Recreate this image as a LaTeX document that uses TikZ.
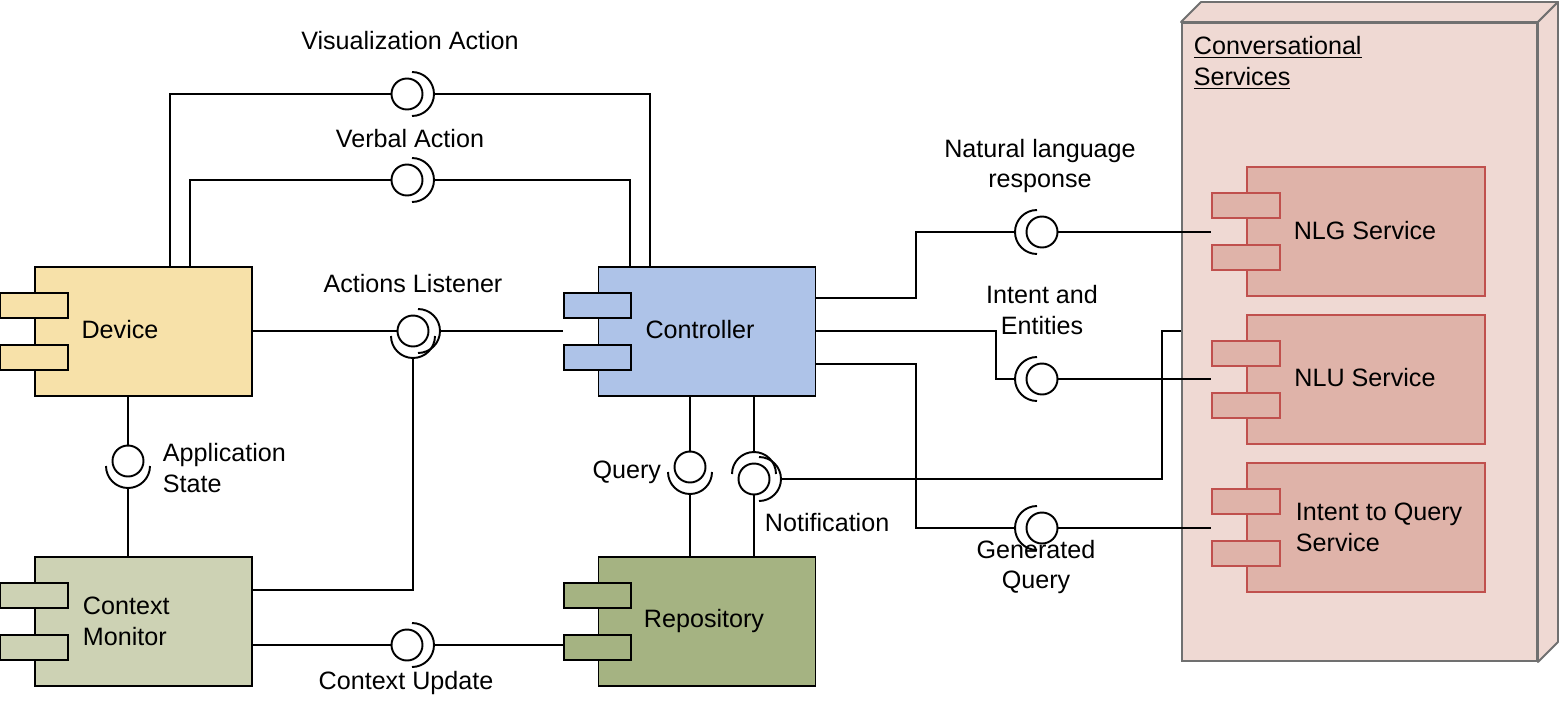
\documentclass[tikz,border=0pt]{standalone}
\usepackage{fontspec}
\setmainfont{Liberation Sans}
\usetikzlibrary{calc}

\definecolor{devfill}{HTML}{F7E1A9}
\definecolor{ctrlfill}{HTML}{AEC3E8}
\definecolor{ctxfill}{HTML}{CDD2B4}
\definecolor{repofill}{HTML}{A5B382}
\definecolor{svcfill}{HTML}{DFB3A9}
\definecolor{svcline}{HTML}{C0504D}
\definecolor{convfill}{HTML}{EFD9D3}
\definecolor{convline}{HTML}{707070}

% two little port boxes on the left side of a component
\newcommand{\ports}[2]{%
  \node[port,#2] (#1-p1) at ([yshift=0.52cm]#1.west) {};
  \node[port,#2] (#1-p2) at ([yshift=-0.52cm]#1.west) {};}
% socket half circle round a ball, facing angle #2, outer point #3
\newcommand{\socket}[3]{%
  \draw (#1.center) ++(#2:5) ++(#2+90:22) arc[start angle=#2+90, end angle=#2-90, radius=22];
  \path (#1.center) ++(#2:27) coordinate (#3);}

\begin{document}
\begin{tikzpicture}[x=0.2mm, y=0.2mm, line width=1.1pt,
   font=\fontsize{14.3}{17.6}\selectfont,
   comp/.style={draw, rectangle, minimum width=4.34cm, minimum height=2.58cm, inner sep=0pt},
   svc/.style={comp, minimum width=4.76cm, fill=svcfill, draw=svcline},
   port/.style={draw, rectangle, minimum width=1.35cm, minimum height=0.51cm, inner sep=0pt},
   ball/.style={draw, circle, fill=white, minimum size=0.62cm, inner sep=0pt},
   lbl/.style={inner sep=0pt, align=center}]
\fill[white] (0,0) rectangle (1560,-708);
\useasboundingbox (0,0) rectangle (1560,-708);

% deployment node
\node[draw=convline, fill=convfill, minimum width=7.1cm, minimum height=12.76cm, inner sep=0pt]
   (conv) at (1359.5,-342) {};
\draw[draw=convline, fill=convfill, line join=round]
   (conv.north west) -- ++(20,20) -- ($(conv.north east)+(20,20)$) -- (conv.north east) -- cycle;
\draw[draw=convline, fill=convfill, line join=round]
   (conv.north east) -- ++(20,20) -- ($(conv.south east)+(20,20)$) -- (conv.south east) -- cycle;
\node[lbl, align=left, anchor=west] (conv-t) at (1193,-63)
   {\underline{Conversational}\\\underline{Services}};

% components
\node[comp, fill=devfill] (dev) at (143.5,-331.5) {};
\ports{dev}{fill=devfill}
\node[comp, fill=ctrlfill] (ctrl) at (707,-331.5) {};
\ports{ctrl}{fill=ctrlfill}
\node[comp, fill=ctxfill] (ctx) at (143.5,-621.5) {};
\ports{ctx}{fill=ctxfill}
\node[comp, fill=repofill] (repo) at (707,-621.5) {};
\ports{repo}{fill=repofill}
\node[svc] (nlg) at (1366,-231.5) {};
\ports{nlg}{fill=svcfill, draw=svcline}
\node[svc] (nlu) at (1366,-379.5) {};
\ports{nlu}{fill=svcfill, draw=svcline}
\node[svc] (itq) at (1366,-527.5) {};
\ports{itq}{fill=svcfill, draw=svcline}

\node[lbl] (dev-t) at (120,-330) {Device};
\node[lbl] (ctrl-t) at (700,-330) {Controller};
\node[lbl, align=left, anchor=west] (ctx-t) at (82,-621) {Context\\Monitor};
\node[lbl] (repo-t) at (704,-621) {Repository};
\node[lbl] (nlg-t) at (1365,-231) {NLG Service};
\node[lbl] (nlu-t) at (1365,-378) {NLU Service};
\node[lbl, align=left, anchor=west] (itq-t) at (1295,-527) {Intent to Query\\Service};

% interfaces
\node[ball] (vis) at (407,-94) {};
\socket{vis}{0}{vis-s}
\node[ball] (verb) at (407,-180) {};
\socket{verb}{0}{verb-s}
\node[ball] (act) at (413,-331) {};
\socket{act}{0}{act-r}
\socket{act}{-90}{act-d}
\node[ball] (ctxu) at (407,-645) {};
\socket{ctxu}{0}{ctxu-s}
\node[ball] (app) at (128,-461) {};
\socket{app}{-90}{app-s}
\node[ball] (qry) at (690,-467) {};
\socket{qry}{-90}{qry-s}
\node[ball] (notif) at (754,-479) {};
\socket{notif}{90}{notif-u}
\socket{notif}{0}{notif-r}
\node[ball] (nlr) at (1042,-232) {};
\socket{nlr}{180}{nlr-s}
\node[ball] (ie) at (1042,-379) {};
\socket{ie}{180}{ie-s}
\node[ball] (gq) at (1042,-528) {};
\socket{gq}{180}{gq-s}

% connectors
\draw (dev.north -| 170,0) |- (vis.west);
\draw (vis-s) -| (ctrl.north -| 650,0);
\draw (dev.north -| 190,0) |- (verb.west);
\draw (verb-s) -| (ctrl.north -| 630,0);
\draw (act.west -| dev.east) -- (act.west);
\draw (act-r) -- (act-r -| ctrl-p1.west);
\draw (act-d) |- (ctx.east |- 0,-590);
\draw (ctx.east |- ctxu) -- (ctxu.west);
\draw (ctxu-s) -- (ctxu-s -| repo-p2.west);
\draw (dev.south -| app) -- (app.north);
\draw (app-s) -- (ctx.north -| app-s);
\draw (ctrl.south -| qry) -- (qry.north);
\draw (qry-s) -- (repo.north -| qry-s);
\draw (ctrl.south -| notif) -- (notif-u);
\draw (notif.south) -- (repo.north -| notif);
\coordinate (nbend) at (1162,-331);
\draw (notif-r) -| (nbend) -- (nbend -| conv.west);
\draw (ctrl.east |- 0,-298) -- (916,-298) |- (nlr-s);
\draw (nlr.east) -- (nlr.east -| nlg-p1.west);
\draw (ctrl.east |- 0,-331) -- (996,-331) |- (ie-s);
\draw (ie.east) -- (ie.east -| nlu-p1.west);
\draw (ctrl.east |- 0,-364) -- (916,-364) |- (gq-s);
\draw (gq.east) -- (gq.east -| itq-p1.west);

% labels
\node[lbl] (l-vis) at (410,-41) {Visualization Action};
\node[lbl] (l-verb) at (410,-139) {Verbal Action};
\node[lbl] (l-act) at (413,-284) {Actions Listener};
\node[lbl] (l-ctxu) at (406,-683) {Context Update};
\node[lbl, align=left, anchor=west] (l-app) at (162,-468) {Application\\State};
\node[lbl, anchor=east] (l-qry) at (662,-472) {Query};
\node[lbl, anchor=west] (l-not) at (764,-523) {Notification};
\node[lbl] (l-nlr) at (1040,-166) {Natural language\\response};
\node[lbl] (l-ie) at (1042,-310) {Intent and\\Entities};
\node[lbl] (l-gq) at (1036,-567) {Generated\\Query};
\end{tikzpicture}
\end{document}
